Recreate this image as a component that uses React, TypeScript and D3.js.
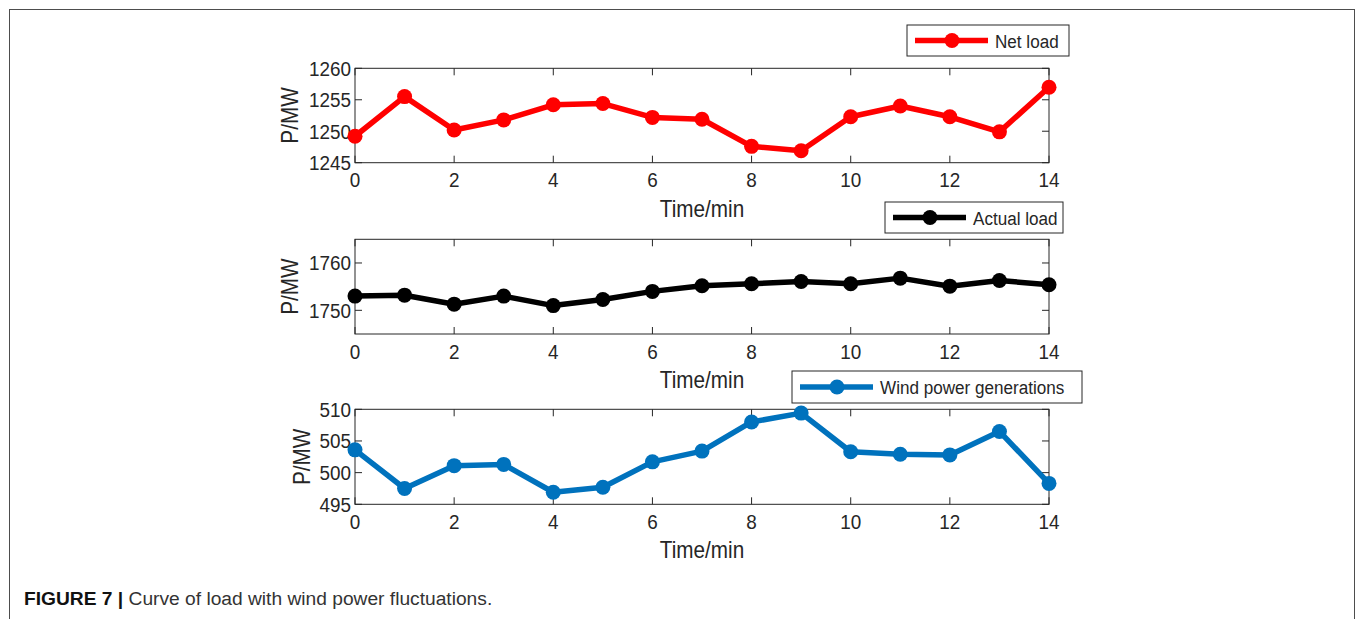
import * as d3 from "d3";

// time axis (minutes) and the three measured series
const minutes = [0, 1, 2, 3, 4, 5, 6, 7, 8, 9, 10, 11, 12, 13, 14];
const netLoad = [1249.2, 1255.5, 1250.2, 1251.8, 1254.2, 1254.4, 1252.2, 1251.9, 1247.6, 1246.9, 1252.3, 1254.0, 1252.3, 1249.9, 1257.0];
const actualLoad = [1753.0, 1753.2, 1751.3, 1753.0, 1751.0, 1752.3, 1754.0, 1755.2, 1755.6, 1756.1, 1755.6, 1756.8, 1755.1, 1756.3, 1755.4];
const windPower = [503.6, 497.5, 501.1, 501.3, 496.9, 497.7, 501.7, 503.4, 508.0, 509.4, 503.3, 502.9, 502.8, 506.5, 498.3];

const xTicks = [0, 2, 4, 6, 8, 10, 12, 14];
const netTicks = [1245, 1250, 1255, 1260];
const actualTicks = [1750, 1760];
const windTicks = [495, 500, 505, 510];

const seriesNames = ["Net load", "Actual load", "Wind power generations"];
const xLabel = "Time/min";
const yLabel = "P/MW";

const width = 1357;
const height = 619;
const font = '"Liberation Sans", Arial, Helvetica, sans-serif';
const ink = "#262626";
const squeeze = 0.9;
const tickLen = 7;

const xScale = d3.scaleLinear().domain([0, 14]).range([355, 1049]);

const panels = [
  {
    name: seriesNames[0],
    values: netLoad,
    color: "#ff0000",
    domain: [1245, 1260],
    ticks: netTicks,
    top: 68.3,
    bottom: 162.7,
    labelX: 298,
    legend: { x: 907, y: 25, w: 162, h: 31 },
  },
  {
    name: seriesNames[1],
    values: actualLoad,
    color: "#000000",
    domain: [1745, 1765],
    ticks: actualTicks,
    top: 239.3,
    bottom: 334,
    labelX: 298,
    legend: { x: 885, y: 202, w: 178, h: 31 },
  },
  {
    name: seriesNames[2],
    values: windPower,
    color: "#0072bd",
    domain: [495, 510],
    ticks: windTicks,
    top: 409.3,
    bottom: 504.3,
    labelX: 310,
    legend: { x: 792, y: 371, w: 290, h: 32 },
  },
];

function Txt(props: any) {
  const { x, y, size, anchor = "start", rotate = 0, weight = "normal", fill = ink, sx = squeeze, children } = props;
  return (
    <text
      transform={`translate(${x},${y}) rotate(${rotate}) scale(${sx},1)`}
      fontFamily={font}
      fontSize={size}
      fontWeight={weight}
      textAnchor={anchor}
      fill={fill}
    >
      {children}
    </text>
  );
}

function Panel(props: any) {
  const { name, values, color, domain, ticks, top, bottom, labelX, legend } = props;
  const [x0, x1] = xScale.range();
  const yScale = d3.scaleLinear().domain(domain).range([bottom, top]);
  const line = d3
    .line<number>()
    .x((d, i) => xScale(minutes[i]))
    .y((d) => yScale(d));
  const midY = legend.y + legend.h / 2;

  return (
    <g>
      <rect x={x0} y={top} width={x1 - x0} height={bottom - top} fill="white" stroke={ink} strokeWidth={1} />
      {xTicks.map((t) => (
        <g key={"x" + t}>
          <line x1={xScale(t)} x2={xScale(t)} y1={bottom} y2={bottom - tickLen} stroke={ink} />
          <line x1={xScale(t)} x2={xScale(t)} y1={top} y2={top + tickLen} stroke={ink} />
          <Txt x={xScale(t)} y={bottom + 24.5} size={21} anchor="middle">
            {t}
          </Txt>
        </g>
      ))}
      {ticks.map((t) => (
        <g key={"y" + t}>
          <line x1={x0} x2={x0 + tickLen} y1={yScale(t)} y2={yScale(t)} stroke={ink} />
          <line x1={x1} x2={x1 - tickLen} y1={yScale(t)} y2={yScale(t)} stroke={ink} />
          <Txt x={x0 - 4} y={yScale(t) + 7.5} size={21} anchor="end">
            {t}
          </Txt>
        </g>
      ))}
      <Txt x={(x0 + x1) / 2} y={bottom + 54} size={23} anchor="middle">
        {xLabel}
      </Txt>
      <Txt x={labelX} y={(top + bottom) / 2} size={23} anchor="middle" rotate={-90}>
        {yLabel}
      </Txt>

      <path d={line(values) || ""} fill="none" stroke={color} strokeWidth={5.5} strokeLinejoin="round" />
      {values.map((v: number, i: number) => (
        <circle key={i} cx={xScale(minutes[i])} cy={yScale(v)} r={7.5} fill={color} />
      ))}

      <rect x={legend.x} y={legend.y} width={legend.w} height={legend.h} fill="white" stroke={ink} strokeWidth={1} />
      <line x1={legend.x + 8} x2={legend.x + 81} y1={midY} y2={midY} stroke={color} strokeWidth={5.5} />
      <circle cx={legend.x + 45} cy={midY} r={7.5} fill={color} />
      <Txt x={legend.x + 88} y={midY + 7} size={19}>
        {name}
      </Txt>
    </g>
  );
}

export default function App() {
  return (
    <div style={{ position: "absolute", left: 0, top: 0 }}>
      <svg width={width} height={height} style={{ display: "block", background: "white" }}>
        <rect x={9.5} y={9.5} width={1345} height={800} fill="none" stroke="#4d4d4d" strokeWidth={1} />
        {panels.map((p) => (
          <Panel key={p.name} {...p} />
        ))}
        <text x={24} y={605} fontFamily={font} fontSize={19.2} fill="#333333">
          <tspan fontWeight="bold" fill="#111111">FIGURE 7 | </tspan>
          <tspan>Curve of load with wind power fluctuations.</tspan>
        </text>
      </svg>
    </div>
  );
}
